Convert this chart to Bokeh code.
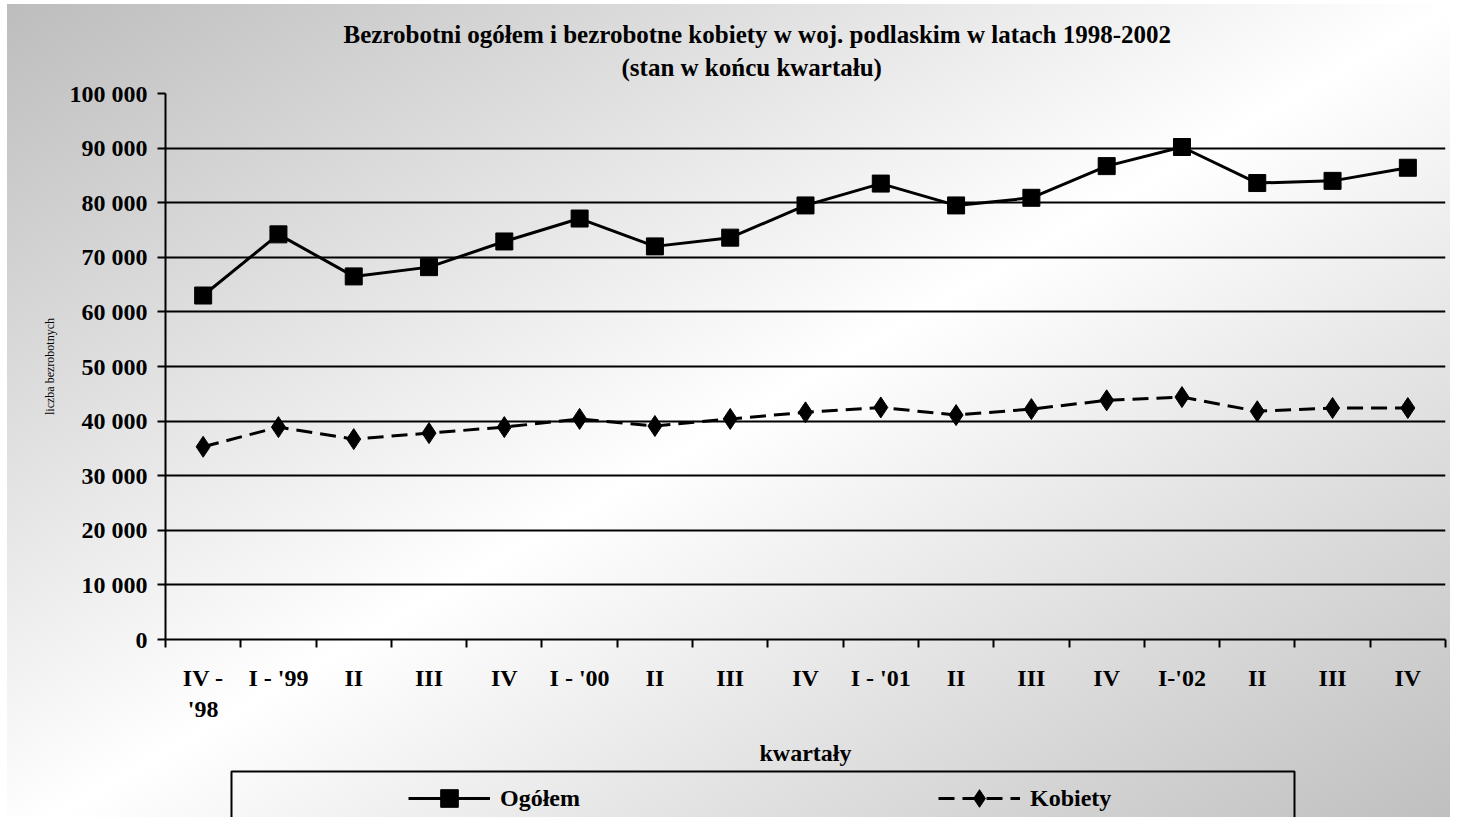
from bokeh.plotting import figure
from bokeh.layouts import column
from bokeh.models import FixedTicker, Legend, LegendItem, Title, BoxAnnotation
from bokeh.embed import file_html
from bokeh.resources import INLINE

# ---- data ----
quarters = ["IV -\n'98", "I - '99", "II", "III", "IV", "I - '00", "II", "III", "IV",
            "I - '01", "II", "III", "IV", "I-'02", "II", "III", "IV"]
ogolem = [63000, 74200, 66500, 68200, 72900, 77100, 72000, 73600, 79500,
          83500, 79500, 80900, 86700, 90200, 83600, 84000, 86400]
kobiety = [35300, 38900, 36700, 37800, 38900, 40400, 39100, 40400, 41600,
           42500, 41100, 42200, 43800, 44400, 41800, 42400, 42400]
y_ticks = [0, 10000, 20000, 30000, 40000, 50000, 60000, 70000, 80000, 90000, 100000]
y_tick_labels = ["0", "10 000", "20 000", "30 000", "40 000", "50 000", "60 000",
                 "70 000", "80 000", "90 000", "100 000"]
series_names = ["Ogółem", "Kobiety"]

title_line1 = "Bezrobotni ogółem i bezrobotne kobiety w woj. podlaskim w latach 1998-2002"
title_line2 = "(stan w końcu kwartału)"

FONT = "Liberation Serif"
GRAD = "linear-gradient(to bottom right, #bdbdbd 0%, #ffffff 50%, #bdbdbd 100%)"
xs = [i + 0.5 for i in range(len(quarters))]

H1 = 768
p = figure(width=1450, height=H1, output_backend="svg", toolbar_location=None,
           x_range=(0, len(quarters)), y_range=(0, 100000),
           min_border_left=165, min_border_right=5, min_border_top=93,
           min_border_bottom=125)

p.background_fill_color = None
p.border_fill_color = None
p.outline_line_color = None
p.styles = {"background": GRAD + " 7px 4px / 1448px 840px no-repeat, #ffffff"}

# titles (p.title is the outer line, the added Title sits next to the frame)
p.title.text = title_line1
p.title.align = "left"
p.title.offset = 178
p.title.text_font = FONT
p.title.text_font_size = "25px"
p.title.text_font_style = "bold"
p.title.text_color = "black"
p.title.standoff = -19
t2 = Title(text=title_line2, align="left", offset=456, text_font=FONT,
           text_font_size="25px", text_font_style="bold", text_color="black", standoff=26)
p.add_layout(t2, "above")

# grid
p.xgrid.visible = False
p.ygrid.ticker = FixedTicker(ticks=y_ticks)
p.ygrid.grid_line_color = "black"
p.ygrid.grid_line_width = 2

# y axis
p.yaxis.ticker = FixedTicker(ticks=y_ticks)
p.yaxis.major_label_overrides = {t: l for t, l in zip(y_ticks, y_tick_labels)}
p.yaxis.axis_line_color = "black"
p.yaxis.axis_line_width = 2
p.yaxis.major_tick_line_width = 2
p.yaxis.major_tick_out = 8
p.yaxis.major_tick_in = 0
p.yaxis.minor_tick_line_color = None
p.yaxis.major_label_text_font = FONT
p.yaxis.major_label_text_font_size = "24px"
p.yaxis.major_label_text_font_style = "bold"
p.yaxis.major_label_text_color = "black"
p.yaxis.major_label_standoff = 10
p.yaxis.axis_label = "liczba bezrobotnych"
p.yaxis.axis_label_text_font = FONT
p.yaxis.axis_label_text_font_size = "12px"
p.yaxis.axis_label_text_font_style = "normal"
p.yaxis.axis_label_text_color = "black"
p.yaxis.axis_label_standoff = 10

# x axis
p.xaxis.ticker = FixedTicker(ticks=xs, minor_ticks=list(range(len(quarters) + 1)))
p.xaxis.major_label_overrides = {x: q for x, q in zip(xs, quarters)}
p.xaxis.axis_line_color = "black"
p.xaxis.axis_line_width = 2
p.xaxis.major_tick_line_color = None
p.xaxis.major_tick_out = 0
p.xaxis.major_tick_in = 0
p.xaxis.minor_tick_line_color = "black"
p.xaxis.minor_tick_line_width = 2
p.xaxis.minor_tick_out = 8
p.xaxis.minor_tick_in = 0
p.xaxis.major_label_text_font = FONT
p.xaxis.major_label_text_font_size = "24px"
p.xaxis.major_label_text_font_style = "bold"
p.xaxis.major_label_text_color = "black"
p.xaxis.major_label_standoff = 17
p.xaxis.axis_label = "kwartały"
p.xaxis.axis_label_text_font = FONT
p.xaxis.axis_label_text_font_size = "24px"
p.xaxis.axis_label_text_font_style = "bold"
p.xaxis.axis_label_text_color = "black"
p.xaxis.axis_label_standoff = 15

# series
line_kw = [dict(line_color="black", line_width=3),
           dict(line_color="black", line_width=3, line_dash="16 8")]
mark_kw = [dict(marker="square", size=17, fill_color="black", line_color="black"),
           dict(marker="diamond", size=21, fill_color="black", line_color="black")]
for vals, lk, mk in zip([ogolem, kobiety], line_kw, mark_kw):
    p.line(xs, vals, **lk)
    p.scatter(xs, vals, **mk)

# ---- legend strip below the chart (same frame borders, so frames stay aligned) ----
H2 = 49
p2 = figure(width=1450, height=H2, output_backend="svg", toolbar_location=None,
            x_range=p.x_range, y_range=(0, 1.1), x_axis_location=None, y_axis_location=None,
            min_border_left=165, min_border_right=5, min_border_top=0,
            min_border_bottom=0)
p2.grid.visible = False
p2.background_fill_color = None
p2.border_fill_color = None
p2.outline_line_color = None
p2.styles = {"background": GRAD + f" 7px {4 - H1}px / 1448px 840px no-repeat, #ffffff"}

# legend box (screen units relative to the strip's frame)
box = BoxAnnotation(left=66, right=1129, top=46, bottom=-20,
                    left_units="screen", right_units="screen",
                    top_units="screen", bottom_units="screen",
                    fill_color=None, fill_alpha=0,
                    line_color="black", line_width=2, line_alpha=1.0)
p2.add_layout(box)

# legend proxies: the same series drawn far outside this strip's y range
items = []
for name, vals, lk, mk in zip(series_names, [ogolem, kobiety], line_kw, mark_kw):
    rl = p2.line(xs, vals, **lk)
    rm = p2.scatter(xs, vals, **mk)
    items.append(LegendItem(label=name, renderers=[rl, rm]))

legend = Legend(items=items, orientation="horizontal", location=(243, -3),
                glyph_width=82, glyph_height=44, label_standoff=10,
                label_width=90, spacing=348, padding=0, margin=0,
                border_line_color=None, background_fill_color=None,
                background_fill_alpha=0,
                label_text_font=FONT, label_text_font_size="24px",
                label_text_font_style="bold", label_text_color="black")
p2.add_layout(legend, "center")

open("out.html", "w").write(file_html(column(p, p2, spacing=0), INLINE))
